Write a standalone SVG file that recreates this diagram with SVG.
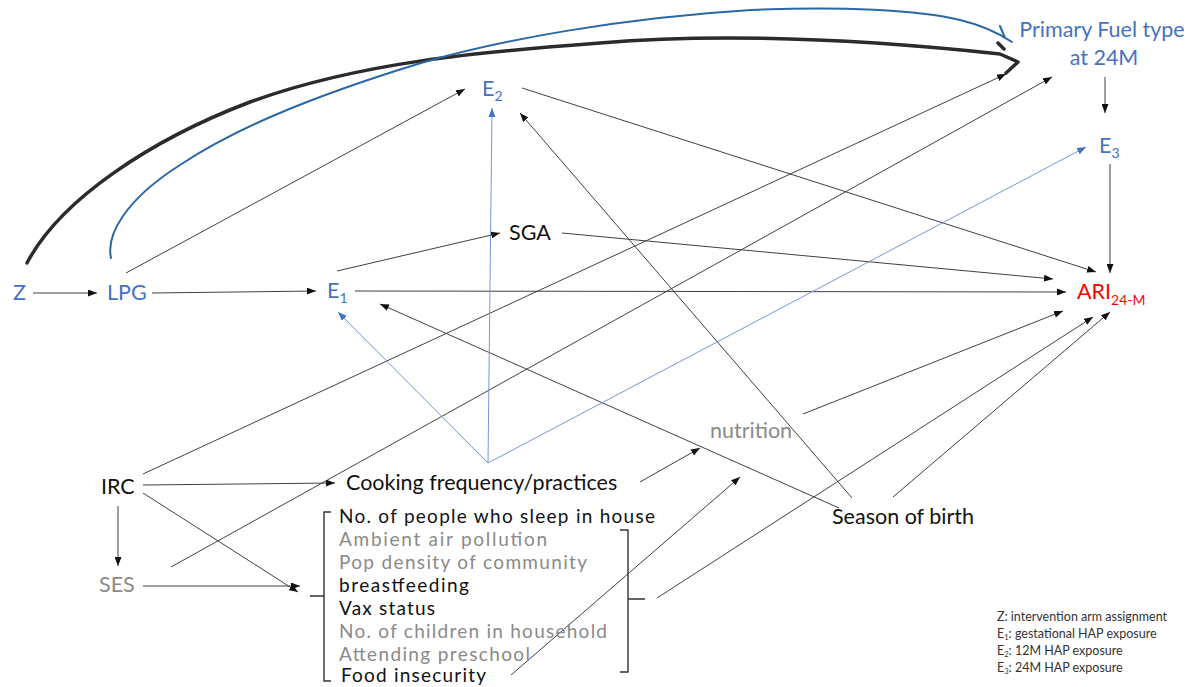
<svg xmlns="http://www.w3.org/2000/svg" width="1191" height="687" viewBox="0 0 1191 687">
<style>
text{font-family:Lato,"Open Sans","Liberation Sans",sans-serif;font-size:21.5px;fill:#111}
.b{fill:#4472C4}
.g{fill:#8a8a8a}
.r{fill:#ff0000}
.sub{font-size:14px}
.li{font-size:19px}
.leg{font-size:12.5px;fill:#333}
.legsub{font-size:7.5px;fill:#333}
.e{fill:none;stroke:#404040;stroke-width:1;marker-end:url(#ah)}
.eb{fill:none;stroke:#7397db;stroke-width:1;marker-end:url(#ahb)}
.br{fill:none;stroke:#333;stroke-width:1.4}
</style>
<defs>
<marker id="ah" markerUnits="userSpaceOnUse" markerWidth="9" markerHeight="7" refX="9" refY="3.5" orient="auto"><path d="M0,0 L9,3.5 L0,7 z" fill="#111"/></marker>
<marker id="ahb" markerUnits="userSpaceOnUse" markerWidth="9" markerHeight="7" refX="9" refY="3.5" orient="auto"><path d="M0,0 L9,3.5 L0,7 z" fill="#4472C4"/></marker>
</defs>
<rect width="1191" height="687" fill="#fff"/>
<g id="connectors">
<path d="M27,263 C60,200 150,140 250,102 C360,62 480,52 600,43 C720,33 850,38 1000,54 L1018,62 L1006,73 M998,43 L1004,49" fill="none" stroke="#2b2b2b" stroke-width="3.5" stroke-linecap="round" stroke-linejoin="round"/>
<path d="M111,258 C106,235 125,200 180,165 C230,132 300,100 421,63 C500,40 620,18 751,10 C840,6 920,10 960,20 C985,26 1000,34 1012,42 L1005,38 L1000,26" fill="none" stroke="#2a67a6" stroke-width="2" stroke-linecap="round" stroke-linejoin="round"/>
<line class="e" x1="33" y1="293" x2="97" y2="293"/>
<line class="e" x1="152" y1="293" x2="316" y2="291"/>
<line class="e" x1="126" y1="273" x2="465" y2="89"/>
<line class="e" x1="337" y1="271" x2="500" y2="233"/>
<line class="e" x1="355" y1="291" x2="1066" y2="292"/>
<line class="e" x1="562" y1="233" x2="1053" y2="279"/>
<line class="e" x1="522" y1="88" x2="1096" y2="272"/>
<line class="e" x1="1105" y1="77" x2="1105" y2="113"/>
<line class="e" x1="1110" y1="164" x2="1110" y2="273"/>
<line class="e" x1="143" y1="474" x2="1006" y2="74"/>
<line class="e" x1="171" y1="567" x2="1052" y2="77"/>
<line class="e" x1="143" y1="485" x2="335" y2="483"/>
<line class="e" x1="143" y1="493" x2="298" y2="592"/>
<line class="e" x1="118" y1="506" x2="118" y2="566"/>
<line class="e" x1="143" y1="586" x2="300" y2="586"/>
<line class="e" x1="640" y1="482" x2="700" y2="448"/>
<line class="e" x1="511" y1="675" x2="740" y2="477"/>
<line class="e" x1="803" y1="414" x2="1063" y2="311"/>
<line class="e" x1="657" y1="598" x2="1093" y2="317"/>
<line class="e" x1="893" y1="497" x2="1110" y2="312"/>
<line class="e" x1="839" y1="508" x2="380" y2="304"/>
<line class="e" x1="852" y1="498" x2="520" y2="113"/>
<line class="eb" x1="488" y1="463" x2="338" y2="312"/>
<line class="eb" x1="488" y1="463" x2="492" y2="108"/>
<line class="eb" x1="488" y1="463" x2="1086" y2="147"/>
</g>
<g id="node-z"><text x="13" y="300" class="b">Z</text></g>
<g id="node-lpg"><text x="107" y="300" class="b">LPG</text></g>
<g id="node-e1"><text x="327" y="298" class="b">E<tspan class="sub" dy="5">1</tspan></text></g>
<g id="node-e2"><text x="482" y="96" class="b">E<tspan class="sub" dy="5">2</tspan></text></g>
<g id="node-e3"><text x="1099" y="153" class="b">E<tspan class="sub" dy="5">3</tspan></text></g>
<g id="node-sga"><text x="509" y="240">SGA</text></g>
<g id="node-pf"><text x="1102" y="37" class="b" text-anchor="middle">Primary Fuel type</text><text x="1104" y="65" class="b" text-anchor="middle">at 24M</text></g>
<g id="node-ari"><text x="1077" y="299" class="r">ARI<tspan class="sub" dy="6">24-M</tspan></text></g>
<g id="node-irc"><text x="101" y="494">IRC</text></g>
<g id="node-ses"><text x="99" y="592" class="g">SES</text></g>
<g id="node-cooking"><text x="346" y="490">Cooking frequency/practices</text></g>
<g id="node-nutrition"><text x="710" y="438" class="g">nutrition</text></g>
<g id="node-season"><text x="832" y="524">Season of birth</text></g>
<g id="node-covariates">
<path class="br" d="M331,512 L324,512 L324,681 L331,681 M324,596 L310,596"/>
<path class="br" d="M620,530 L628,530 L628,672 L620,672 M628,599 L645,599"/>
<text x="339" y="523" class="li" textLength="316" lengthAdjust="spacing">No. of people who sleep in house</text>
<text x="339" y="546" class="li g" textLength="208" lengthAdjust="spacing">Ambient air pollution</text>
<text x="339" y="569" class="li g" textLength="248" lengthAdjust="spacing">Pop density of community</text>
<text x="339" y="592" class="li" textLength="130" lengthAdjust="spacing">breastfeeding</text>
<text x="339" y="615" class="li" textLength="96" lengthAdjust="spacing">Vax status</text>
<text x="339" y="638" class="li g" textLength="268" lengthAdjust="spacing">No. of children in household</text>
<text x="339" y="661" class="li g" textLength="191" lengthAdjust="spacing">Attending preschool</text>
<text x="341" y="682" class="li" textLength="145" lengthAdjust="spacing">Food insecurity</text>
</g>
<g id="legend">
<text x="997" y="621" class="leg">Z: intervention arm assignment</text>
<text x="997" y="638" class="leg">E<tspan class="legsub" dy="2">1</tspan><tspan dy="-2">: gestational HAP exposure</tspan></text>
<text x="997" y="655" class="leg">E<tspan class="legsub" dy="2">2</tspan><tspan dy="-2">: 12M HAP exposure</tspan></text>
<text x="997" y="672" class="leg">E<tspan class="legsub" dy="2">3</tspan><tspan dy="-2">: 24M HAP exposure</tspan></text>
</g>
</svg>
